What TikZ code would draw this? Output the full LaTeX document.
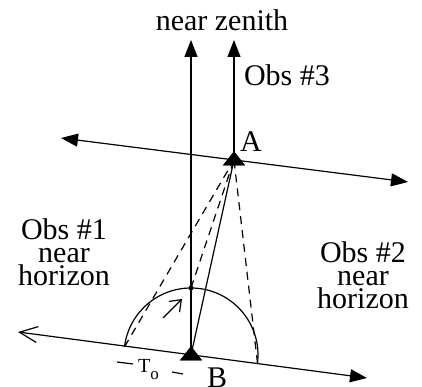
\documentclass[tikz,border=0pt]{standalone}
\usepackage{fontspec}
\setmainfont{Liberation Serif}
\usetikzlibrary{arrows.meta,shapes.geometric,calc}
\tikzset{
  ray/.style={line width=1.2pt},
  tip/.style={-{Triangle[length=17pt,width=13pt]}},
  sightline/.style={line width=1.2pt,dash pattern=on 8pt off 6pt},
  station/.style={isosceles triangle,isosceles triangle apex angle=80,isosceles triangle stretches,shape border rotate=90,fill=black,inner sep=0pt,minimum height=14pt,minimum width=22pt},
  lbl/.style={font=\fontsize{30}{23}\selectfont,inner sep=0pt,align=center},
}

\begin{document}
\begin{tikzpicture}[x=1pt,y=1pt]
    \useasboundingbox (0,0) rectangle (422,387);
    \node[lbl,anchor=base] (zen) at (222,356) {near zenith}; %zenith
    \node[lbl,anchor=base] (obs3) at (287,301) {Obs \#3};
    \node[lbl] (obs1) at (64,135) {Obs \#1\\near\\horizon};
    \node[lbl] (obs2) at (363,112) {Obs \#2\\near\\horizon};
    \coordinate (zenA) at (234,347);
    \coordinate (zenB) at (191,347);
    \coordinate (upL) at (61,249);
    \coordinate (upR) at (408,205);
    \coordinate (hzL) at (18,55);
    \coordinate (hzR) at (367,9);
    \draw[ray,{Triangle[length=17pt,width=13pt]}-{Triangle[length=17pt,width=13pt]}] (upL) -- (upR); %upper
    \draw[ray,{Straight Barb[length=18pt,width=16pt]}-{Triangle[length=17pt,width=13pt]}] (hzL) -- (hzR); %horizon
    \node[station] (stA) at (234,227) {};
    \node[station] (stB) at (191,32) {};
    \node[lbl,anchor=base west] (A) at (240,235) {A};
    \node[lbl,anchor=base west] (B) at (207,-1) {B};
    \coordinate (arcL) at ($(stB.center)+(173:67)$);
    \coordinate (arcR) at ($(stB.center)+(-7:67)$);
    \draw[ray] (arcR) arc[start angle=-7,end angle=173,radius=67];
    \node[circle,fill,inner sep=0pt,minimum size=5pt] (dot) at (191,99) {};
    \draw[ray,tip] (stB.center) -- (zenB);
    \draw[ray,tip] (stA.center) -- (zenA);
    \draw[ray] (stB.center) -- (stA.center);
    \draw[sightline] (arcL) -- (stA.center);
    \draw[sightline] (arcR) -- (stA.center);
    \draw[sightline] (dot.center) -- (stA.center);
    \coordinate (mvS) at (163,69);
    \coordinate (mvE) at (182,88);
    \draw[ray,-{Straight Barb[length=10pt,width=15pt]}] (mvS) -- (mvE); %motion
    \node[inner sep=0pt,anchor=base west,font=\fontsize{20}{20}\selectfont] (To) at (138,14) {T\raisebox{-7pt}{\fontsize{17}{17}\selectfont o}};
    \draw[ray] (117,25) -- (133,23);
    \draw[ray] (172,15) -- (183,13);
    \node[station] at (stA) {};
    \node[station] at (stB) {};
  \end{tikzpicture}
\end{document}
